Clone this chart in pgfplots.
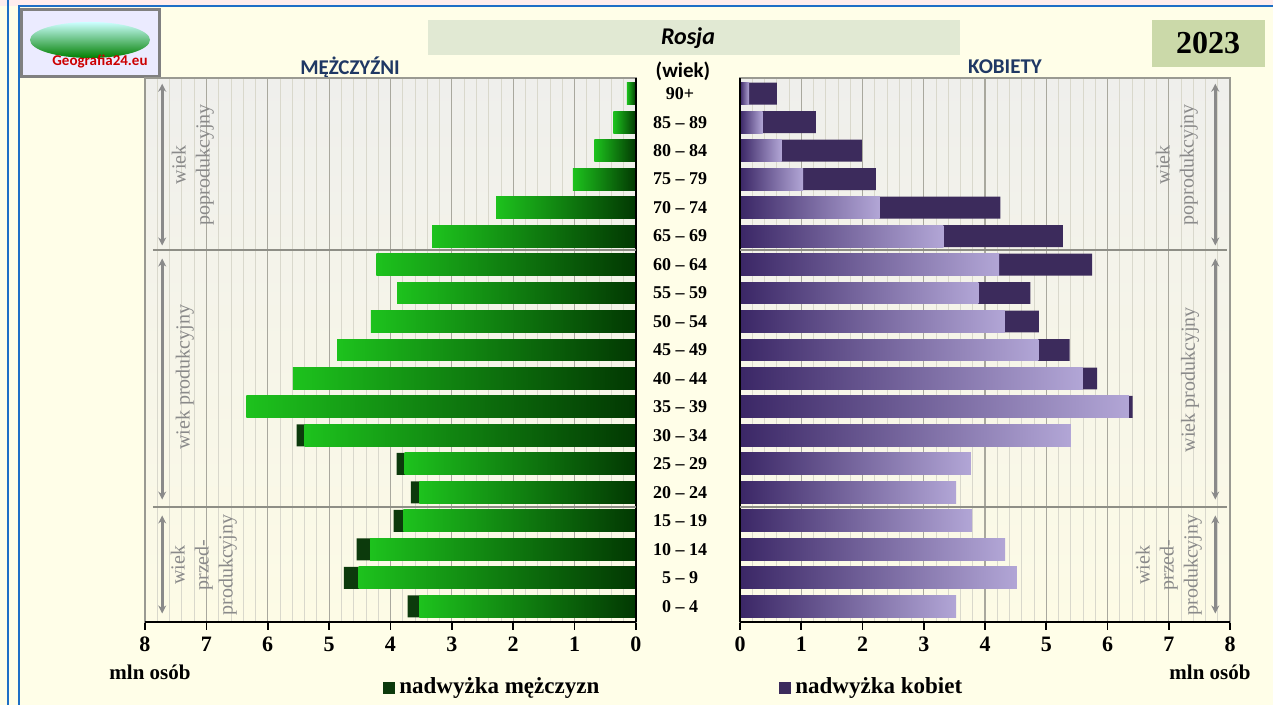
\documentclass[border=0pt]{standalone}
\usepackage{fontspec}
\setmainfont{Liberation Serif}
\newfontfamily\carl{Carlito}
\usepackage{pgfplots}
\usepackage{pgfplotstable}
\pgfplotsset{compat=1.18}
\usetikzlibrary{arrows.meta}

\definecolor{cream}{HTML}{FFFEE8}
\definecolor{frameblue}{HTML}{1E6FC6}
\definecolor{bgtop}{HTML}{EFEFEC}
\definecolor{bgmid}{HTML}{FCF8DC}
\definecolor{bgbot}{HTML}{FDFBE6}
\definecolor{gridmaj}{HTML}{A9A89E}
\definecolor{gridmin}{HTML}{D9D8CC}
\definecolor{axgray}{HTML}{9A9A92}
\definecolor{sepgray}{HTML}{8E8E86}
\definecolor{notegray}{HTML}{8A8A8A}
\definecolor{mlight}{HTML}{1DC21D}
\definecolor{mdark}{HTML}{023802}
\definecolor{msur}{HTML}{0C3A0C}
\definecolor{wdark}{HTML}{3B2766}
\definecolor{wlight}{HTML}{B2A6D6}
\definecolor{wsur}{HTML}{3C2B5C}
\definecolor{headblue}{HTML}{1F3864}
\definecolor{titlebox}{HTML}{E1E9D3}
\definecolor{yearbox}{HTML}{CBD9A9}

% y: 0 = 0-4 ... 18 = 90+ ; values in mln
% base = common part (smaller sex), tot = all men / all women
\pgfplotstableread{
y  mbase mtot wbase wtot
0  3.53  3.72 3.53  3.53
1  4.52  4.76 4.52  4.52
2  4.33  4.55 4.33  4.33
3  3.79  3.95 3.79  3.79
4  3.53  3.67 3.53  3.53
5  3.77  3.90 3.77  3.77
6  5.40  5.53 5.40  5.40
7  6.35  6.35 6.35  6.41
8  5.59  5.59 5.59  5.83
9  4.87  4.87 4.87  5.38
10 4.32  4.32 4.32  4.88
11 3.89  3.89 3.89  4.74
12 4.23  4.23 4.23  5.75
13 3.32  3.32 3.32  5.27
14 2.28  2.28 2.28  4.25
15 1.03  1.03 1.03  2.22
16 0.68  0.68 0.68  1.99
17 0.37  0.37 0.37  1.24
18 0.15  0.15 0.15  0.60
}\pyr

\pgfplotsset{
  pyramid/.style={
    scale only axis, height=272pt,
    xmin=0, xmax=8, ymin=-0.55, ymax=18.55,
    xtick={0,...,8}, minor x tick num=4,
    xmajorgrids, xminorgrids,
    major grid style={draw=gridmaj, line width=0.6pt},
    minor grid style={draw=gridmin, line width=0.4pt},
    xtick pos=left, tick align=outside,
    major tick length=4pt, minor tick length=0pt,
    xtick style={black, line width=0.8pt},
    axis line style={draw=axgray, line width=0.8pt},
    axis background/.style={shade, top color=bgtop, middle color=bgmid, bottom color=bgbot},
    xticklabel style={font=\bfseries\fontsize{11}{13}\selectfont, /pgf/number format/assume math mode=true},
    clip=false,
  },
  onebar/.style={xbar, bar width=0.77, bar shift=0pt, draw=none},
}
\tikzset{
  note/.style={text=notegray, font=\fontsize{10}{12}\selectfont, align=center, rotate=90},
  agearrow/.style={draw=notegray, line width=1.4pt, {Stealth[length=4pt,width=4pt]}-{Stealth[length=4pt,width=4pt]}},
}

\begin{document}
\begin{tikzpicture}[x=0.5pt,y=0.5pt]
\useasboundingbox (0,0) rectangle (1273,705);
\fill[cream] (0,0) rectangle (1273,705);
\fill[white!93!red] (0,699) rectangle (1273,705);
\draw[frameblue, line width=1.4pt] (8,0) -- (8,705);
\draw[frameblue, line width=1.4pt] (19,0) -- (19,699) -- (1273,699);

% logo
\fill[white!92!blue] (21,628) rectangle (159,695);
\shade[top color=white!80!cyan, bottom color=green!50!black] (90,665) ellipse (60 and 18);
\node[text=red!80!black, font=\carl\bfseries\fontsize{7.5}{8}\selectfont] at (100,643) {Geografia24.eu};
\draw[gray, line width=1.5pt] (21,628) rectangle (159,695);

% headings
\fill[titlebox] (428,650) rectangle (960,685);
\node[font=\carl\bfseries\itshape\fontsize{12}{14}\selectfont] at (688,667) {Rosja};
\fill[yearbox] (1152,638) rectangle (1265,685);
\node[font=\bfseries\fontsize{16}{18}\selectfont] at (1208,662) {2023};
\node[text=headblue, font=\carl\bfseries\fontsize{10.5}{12}\selectfont] at (350,638) {MĘŻCZYŹNI};
\node[text=headblue, font=\carl\bfseries\fontsize{10.5}{12}\selectfont] at (1005,638) {KOBIETY};
\node[font=\carl\bfseries\fontsize{10.5}{12}\selectfont] at (683,634) {(wiek)};

% men
\begin{axis}[pyramid, at={(72.5pt,41.5pt)}, anchor=south west,
  width=245.5pt, x dir=reverse, ytick=\empty]
% surplus of men (ages 0-34): dark bar to the total
\addplot[onebar, fill=msur, restrict y to domain=0:6] table[x=mtot, y=y] {\pyr};
% common part, one shaded bar per age group
\pgfplotsinvokeforeach{0,...,18}{
  \addplot[onebar, left color=mlight, right color=mdark, restrict y to domain=#1:#1] table[x=mbase, y=y] {\pyr};
}
\draw[black, line width=1pt] (axis cs:0,-0.55) -- (axis cs:0,18.55);
\draw[black, line width=1.2pt] (axis cs:8,-0.55) -- (axis cs:0,-0.55);
\draw[sepgray, line width=1.1pt] (axis cs:7.87,12.5) -- (axis cs:0,12.5);
\draw[sepgray, line width=1.1pt] (axis cs:7.87,3.5) -- (axis cs:0,3.5);
\draw[agearrow] (axis cs:7.72,18.35) -- (axis cs:7.72,12.67);
\draw[agearrow] (axis cs:7.72,12.21) -- (axis cs:7.72,3.75);
\draw[agearrow] (axis cs:7.72,3.19) -- (axis cs:7.72,-0.25);
\node[note] at (axis cs:7.22,15.5) {wiek\\poprodukcyjny};
\node[note] at (axis cs:7.35,8.05) {wiek produkcyjny};
\node[note] at (axis cs:7.04,1.45) {wiek\\przed-\\produkcyjny};
\end{axis}

% women
\begin{axis}[pyramid, at={(370pt,41.5pt)}, anchor=south west,
  width=245pt, ytick={0,...,18}, ytick pos=left, ytick style={draw=none},
  yticklabels={0 – 4,5 – 9,10 – 14,15 – 19,20 – 24,25 – 29,30 – 34,35 – 39,40 – 44,45 – 49,50 – 54,55 – 59,60 – 64,65 – 69,70 – 74,75 – 79,80 – 84,85 – 89,90+},
  yticklabel style={anchor=center, xshift=-26pt, font=\bfseries\fontsize{9}{11}\selectfont}]
% surplus of women (ages 35+)
\addplot[onebar, fill=wsur, restrict y to domain=7:18] table[x=wtot, y=y] {\pyr};
\pgfplotsinvokeforeach{0,...,18}{
  \addplot[onebar, left color=wdark, right color=wlight, restrict y to domain=#1:#1] table[x=wbase, y=y] {\pyr};
}
\draw[black, line width=1pt] (axis cs:0,-0.55) -- (axis cs:0,18.55);
\draw[black, line width=1.2pt] (axis cs:0,-0.55) -- (axis cs:8,-0.55);
\draw[sepgray, line width=1.1pt] (axis cs:0,12.5) -- (axis cs:7.95,12.5);
\draw[sepgray, line width=1.1pt] (axis cs:0,3.5) -- (axis cs:7.95,3.5);
\draw[agearrow] (axis cs:7.76,18.35) -- (axis cs:7.76,12.67);
\draw[agearrow] (axis cs:7.76,12.21) -- (axis cs:7.76,3.75);
\draw[agearrow] (axis cs:7.76,3.19) -- (axis cs:7.76,-0.25);
\node[note] at (axis cs:7.13,15.5) {wiek\\poprodukcyjny};
\node[note] at (axis cs:7.35,7.95) {wiek produkcyjny};
\node[note] at (axis cs:7.0,1.45) {wiek\\przed-\\produkcyjny};
\end{axis}

% units and legend
\node[font=\bfseries\fontsize{10.5}{12}\selectfont] at (150,33) {mln osób};
\node[font=\bfseries\fontsize{10.5}{12}\selectfont] at (1210,33) {mln osób};
\fill[msur] (383,11) rectangle (395,23);
\node[anchor=west, inner sep=0pt, font=\bfseries\fontsize{11.5}{13}\selectfont] at (399,17) {nadwyżka mężczyzn};
\fill[wsur] (779,11) rectangle (791,23);
\node[anchor=west, inner sep=0pt, font=\bfseries\fontsize{11.5}{13}\selectfont] at (795,17) {nadwyżka kobiet};
\end{tikzpicture}
\end{document}
